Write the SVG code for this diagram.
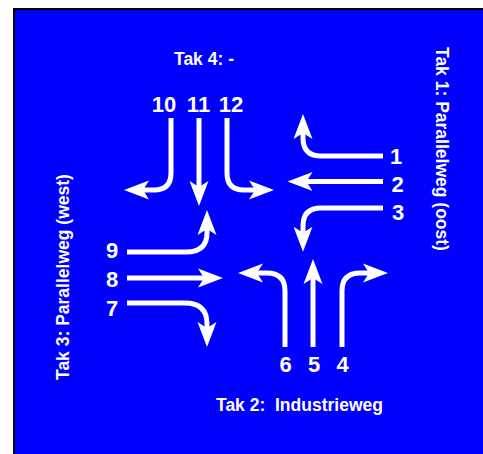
<svg xmlns="http://www.w3.org/2000/svg" width="483" height="454" viewBox="0 0 483 454">
<defs>
<style>
.lbl{font-family:"Liberation Sans",Arial,sans-serif;font-weight:bold;fill:#fff;}
.num{font-size:22px;text-anchor:middle;}
.tak{font-size:17.5px;white-space:pre;}
.arr{fill:none;stroke:#fff;stroke-width:5;marker-end:url(#ah);}
</style>
<marker id="ah" markerUnits="userSpaceOnUse" markerWidth="27" markerHeight="22" viewBox="0 -11 27 22" refX="8" refY="0" orient="auto">
<path d="M0,-9.5 L25,0 L0,9.5 L6,0 Z" fill="#fff"/>
</marker>
</defs>
<rect x="0" y="0" width="483" height="454" fill="#fff"/>
<rect id="background" x="14" y="9" width="480" height="460" fill="#0000ff" stroke="#000" stroke-width="2"/>
<g id="connectors">
<path class="arr" d="M171,118 V173 Q171,190 154,190 H141"/>
<path class="arr" d="M199,118 V189"/>
<path class="arr" d="M227,118 V173 Q227,190 244,190 H257"/>
<path class="arr" d="M127,252 H186 Q207,252 207,233 V227"/>
<path class="arr" d="M127,278 H206"/>
<path class="arr" d="M127,303 H185 Q207,303 207,324 V330"/>
<path class="arr" d="M383,156 H321 Q303,156 303,138 V131"/>
<path class="arr" d="M383,181.5 H304.5"/>
<path class="arr" d="M383,208 H321 Q303,208 303,226 V234.7"/>
<path class="arr" d="M285,347 V291 Q285,273 267,273 H255"/>
<path class="arr" d="M313,347 V276"/>
<path class="arr" d="M342,347 V291 Q342,273 360,273 H371"/>
</g>
<g id="tak4"><text class="lbl tak" x="174" y="65">Tak 4: -</text></g>
<g id="tak2"><text class="lbl tak" x="216" y="411" xml:space="preserve">Tak 2:  Industrieweg</text></g>
<g id="tak3"><text class="lbl tak" transform="translate(69,380) rotate(-90)">Tak 3: Parallelweg (west)</text></g>
<g id="tak1"><text class="lbl tak" transform="translate(436,47) rotate(90)">Tak 1: Parallelweg (oost)</text></g>
<g id="n10"><text class="lbl num" x="164" y="112">10</text></g>
<g id="n11"><text class="lbl num" x="198.5" y="112">11</text></g>
<g id="n12"><text class="lbl num" x="231" y="112">12</text></g>
<g id="n9"><text class="lbl num" x="112" y="258">9</text></g>
<g id="n8"><text class="lbl num" x="112" y="286.5">8</text></g>
<g id="n7"><text class="lbl num" x="112" y="315.5">7</text></g>
<g id="n1"><text class="lbl num" x="396" y="164">1</text></g>
<g id="n2"><text class="lbl num" x="397.5" y="191.5">2</text></g>
<g id="n3"><text class="lbl num" x="398" y="220">3</text></g>
<g id="n6"><text class="lbl num" x="285.5" y="371.5">6</text></g>
<g id="n5"><text class="lbl num" x="314" y="371.5">5</text></g>
<g id="n4"><text class="lbl num" x="342.5" y="371.5">4</text></g>
</svg>
